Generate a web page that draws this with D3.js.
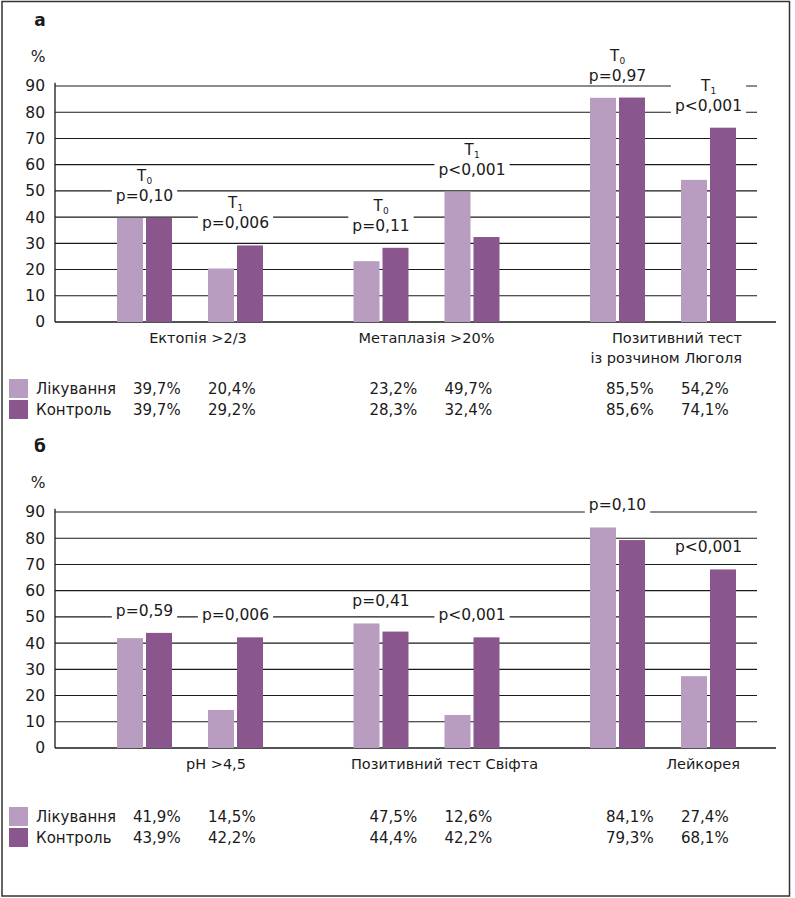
<!DOCTYPE html>
<html>
<head>
<meta charset="utf-8">
<script src="https://cdn.jsdelivr.net/npm/d3@7/dist/d3.min.js"></script>
<style>
  html, body { margin: 0; padding: 0; background: #fff; }
  svg { display: block; }
  text { font-family: "DejaVu Sans", sans-serif; fill: #1a1a1a; }
</style>
</head>
<body>
<svg id="chart" width="795" height="898"></svg>
<script>
// ---------- DATA ----------
const seriesNames = ["Лікування", "Контроль"];
const timepoints = ["T0", "T1"];
const yTicks = [0, 10, 20, 30, 40, 50, 60, 70, 80, 90];

// Panel а
const categoriesA = [["Ектопія >2/3"], ["Метаплазія >20%"], ["Позитивний тест", "із розчином Люголя"]];
const treatmentA = [39.7, 20.4, 23.2, 49.7, 85.5, 54.2];   // per category: T0, T1
const controlA   = [39.7, 29.2, 28.3, 32.4, 85.6, 74.1];
const pValuesA   = ["p=0,10", "p=0,006", "p=0,11", "p<0,001", "p=0,97", "p<0,001"];

// Panel б
const categoriesB = [["pH >4,5"], ["Позитивний тест Свіфта"], ["Лейкорея"]];
const treatmentB = [41.9, 14.5, 47.5, 12.6, 84.1, 27.4];
const controlB   = [43.9, 42.2, 44.4, 42.2, 79.3, 68.1];
const pValuesB   = ["p=0,59", "p=0,006", "p=0,41", "p<0,001", "p=0,10", "p<0,001"];

// ---------- STYLE ----------
const colors = ["#b99dc0", "#8a568e"];
const fmt = d3.formatLocale({ decimal: ",", thousands: " ", grouping: [3], currency: ["", ""] }).format(".1f");

const svg = d3.select("#chart");

// outer frame
svg.append("rect").attr("x", 2).attr("y", 1.5).attr("width", 787.5).attr("height", 894.5)
  .attr("fill", "none").attr("stroke", "#333").attr("stroke-width", 1.5);

function panel(cfg) {
  const g = svg.append("g").attr("transform", `translate(0,${cfg.top})`);
  const y = d3.scaleLinear().domain([0, 90]).range([322, 86]);
  const gx = d3.scalePoint().domain(d3.range(cfg.categories.length)).range([190, 663]);
  const tx = d3.scaleBand().domain(timepoints).range([-91, 91]);
  const sx = d3.scaleBand().domain(seriesNames).range([-27.5, 27.5]).paddingInner(0.103);

  const xLeft = 55, gridRight = 757, baseRight = 776;

  // panel letter & unit
  g.append("text").attr("x", 40).attr("y", 26).attr("text-anchor", "middle")
    .style("font-weight", "bold").style("font-size", "17px").text(cfg.letter);
  g.append("text").attr("x", 38).attr("y", 62).attr("text-anchor", "middle")
    .style("font-size", "15.5px").text("%");

  // gridlines
  g.append("g").selectAll("line").data(yTicks.filter(d => d > 0)).join("line")
    .attr("x1", xLeft).attr("x2", gridRight)
    .attr("y1", d => y(d)).attr("y2", d => y(d))
    .attr("stroke", "#1a1a1a").attr("stroke-width", 1.1);
  // baseline
  g.append("line").attr("x1", xLeft).attr("x2", baseRight).attr("y1", y(0)).attr("y2", y(0))
    .attr("stroke", "#1a1a1a").attr("stroke-width", 1.3);

  // y axis
  const yAxis = d3.axisLeft(y).tickValues(yTicks).tickSize(0).tickPadding(10);
  const ya = g.append("g").attr("transform", `translate(${xLeft},0)`).call(yAxis);
  ya.select(".domain").attr("d", `M0,${y(91.2)}V${y(0)}`).attr("stroke", "#1a1a1a").attr("stroke-width", 1.3);
  ya.selectAll("text").style("font-size", "15.5px").style("font-family", "'DejaVu Sans', sans-serif")
    .attr("fill", "#1a1a1a");

  // build records
  const recs = [];
  cfg.categories.forEach((c, ci) => {
    timepoints.forEach((t, ti) => {
      const k = ci * 2 + ti;
      recs.push({ ci, t, k, vals: [cfg.treatment[k], cfg.control[k]], p: cfg.pvalues[k] });
    });
  });
  const slotX = r => gx(r.ci) + tx(r.t) + tx.bandwidth() / 2;

  // annotations (drawn before bars; white backing hides gridlines)
  const ann = g.append("g");
  recs.forEach(r => {
    const cx = slotX(r);
    const top = y(d3.max(r.vals));
    const pBase = top - 17;
    const ag = ann.append("g");
    const bg = ag.append("rect").attr("fill", "#fff");
    const pt = ag.append("text").attr("x", cx).attr("y", pBase).attr("text-anchor", "middle")
      .style("font-size", "15.5px").text(r.p);
    let topEdge = pBase - 13;
    if (cfg.showT) {
      const tBase = pBase - 20;
      ag.append("text").attr("x", cx - 3).attr("y", tBase).attr("text-anchor", "middle")
        .style("font-size", "15px").text("T");
      ag.append("text").attr("x", cx + 2).attr("y", tBase + 3).attr("text-anchor", "start")
        .style("font-size", "9px").text(r.t.slice(1));
      topEdge = tBase - 12;
    }
    const bb = pt.node().getBBox();
    bg.attr("x", bb.x - 4).attr("width", bb.width + 8)
      .attr("y", topEdge).attr("height", pBase + 4 - topEdge);
  });

  // bars
  const bars = g.append("g");
  recs.forEach(r => {
    bars.selectAll(null).data(seriesNames.map((s, si) => ({ s, si, v: r.vals[si] }))).join("rect")
      .attr("x", d => slotX(r) + sx(d.s))
      .attr("width", sx.bandwidth())
      .attr("y", d => y(d.v))
      .attr("height", d => y(0) - y(d.v))
      .attr("fill", d => colors[d.si]);
  });

  // category labels
  cfg.categories.forEach((lines, ci) => {
    const last = ci === cfg.categories.length - 1;
    const multi = last && lines.length > 1;
    const t = g.append("text")
      .attr("text-anchor", multi ? "end" : "middle")
      .style("font-size", "14.5px");
    lines.forEach((ln, li) => {
      const xx = multi ? gx(ci) + 79 : gx(ci) + cfg.labelShift[ci];
      t.append("tspan").attr("x", xx).attr("y", 343 + li * 20).text(ln);
    });
  });

  // legend
  const legTop = cfg.legendTop;
  seriesNames.forEach((s, si) => {
    const ly = legTop + si * 21;
    g.append("rect").attr("x", 9).attr("y", ly).attr("width", 19).attr("height", 19).attr("fill", colors[si]);
    g.append("text").attr("x", 36).attr("y", ly + 15).style("font-size", "15px").text(s);
    const vals = si === 0 ? cfg.treatment : cfg.control;
    vals.forEach((v, k) => {
      const ci = Math.floor(k / 2), ti = k % 2;
      g.append("text").attr("x", gx(ci) - 57 + ti * 75).attr("y", ly + 15)
        .style("font-size", "15px").text(fmt(v) + "%");
    });
  });
}

panel({ top: 0, letter: "а", categories: categoriesA, treatment: treatmentA, control: controlA,
        pvalues: pValuesA, showT: true, labelShift: [8, 0, 0], legendTop: 379 });
panel({ top: 426, letter: "б", categories: categoriesB, treatment: treatmentB, control: controlB,
        pvalues: pValuesB, showT: false, labelShift: [26, 18, 40], legendTop: 381 });
</script>
</body>
</html>
